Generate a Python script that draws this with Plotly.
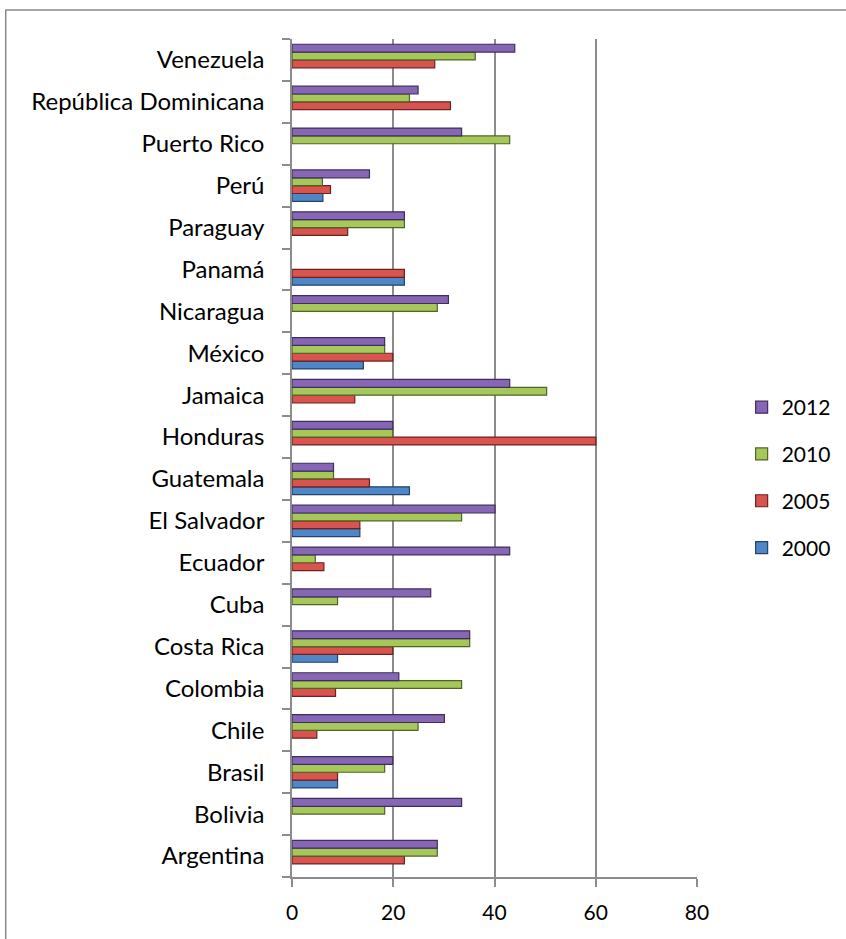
import plotly.graph_objects as go

# Countries, bottom to top on the category axis
countries = [
    "Argentina", "Bolivia", "Brasil", "Chile", "Colombia", "Costa Rica", "Cuba",
    "Ecuador", "El Salvador", "Guatemala", "Honduras", "Jamaica", "México",
    "Nicaragua", "Panamá", "Paraguay", "Perú", "Puerto Rico",
    "República Dominicana", "Venezuela",
]

# Values per year (None = no data)
v2000 = [None, None, 9.0, None, None, 9.0, None,
         None, 13.4, 23.2, None, None, 14.1,
         None, 22.2, None, 6.1, None,
         None, None]
v2005 = [22.2, None, 9.0, 4.9, 8.6, 19.9, None,
         6.3, 13.4, 15.3, 60.0, 12.4, 19.9,
         None, 22.2, 11.0, 7.6, None,
         31.3, 28.2]
v2010 = [28.7, 18.3, 18.3, 24.9, 33.5, 35.1, 9.0,
         4.6, 33.5, 8.2, 19.9, 50.3, 18.3,
         28.7, None, 22.2, 6.0, 43.0,
         23.2, 36.2]
v2012 = [28.7, 33.5, 19.9, 30.1, 21.1, 35.1, 27.4,
         43.0, 40.1, 8.2, 19.9, 43.0, 18.3,
         30.9, None, 22.2, 15.3, 33.5,
         24.9, 44.0]

years = ["2000", "2005", "2010", "2012"]
series = [v2000, v2005, v2010, v2012]
fills = ["#4F86C6", "#D9534F", "#A6C85A", "#8766B5"]
edges = ["#22436B", "#6E2220", "#4E6527", "#3F2E5C"]

x_ticks = [0, 20, 40, 60, 80]

fig = go.Figure()
for i, (name, vals, fc, ec) in enumerate(zip(years, series, fills, edges)):
    fig.add_trace(go.Bar(
        y=countries, x=vals, name=name, orientation="h",
        marker=dict(color=fc, line=dict(color=ec, width=1.2)),
        legendgroup=name, legendrank=len(years) - i,
    ))

font_family = "Lato, Carlito, 'Liberation Sans', sans-serif"
axis_grey = "#8C8C8C"

# plot area in pixels
L, R, T, B = 291.7, 697.3, 39.0, 877.0
W, H = 846, 939
pw, ph = R - L, B - T

def px_x(p):
    return (p - L) / pw

def px_y(p):
    return (B - p) / ph

fig.update_layout(
    width=W, height=H,
    margin=dict(l=L, r=W - R, t=T, b=H - B, pad=0, autoexpand=False),
    paper_bgcolor="white", plot_bgcolor="white",
    barmode="group", bargap=0.25, bargroupgap=0.0,
    font=dict(family=font_family, size=20, color="black"),
    showlegend=True,
    legend=dict(
        x=px_x(742), y=px_y(387), xanchor="left", yanchor="top",
        traceorder="grouped", tracegroupgap=16.5,
        font=dict(size=21), itemwidth=30, bgcolor="rgba(0,0,0,0)",
    ),
    xaxis=dict(
        range=[0, 80], tickvals=x_ticks, showgrid=True, gridcolor=axis_grey,
        gridwidth=1.5, zeroline=False, showline=True, linecolor=axis_grey,
        linewidth=1.5, ticks="outside", ticklen=8, tickcolor=axis_grey,
        tickwidth=1.5, ticklabelstandoff=8, fixedrange=True,
        tickfont=dict(size=21),
    ),
    yaxis=dict(
        type="category", categoryorder="array", categoryarray=countries,
        range=[-0.5, len(countries) - 0.5], showgrid=False, showline=True,
        linecolor=axis_grey, linewidth=1.5, ticks="outside", ticklen=8,
        tickcolor=axis_grey, tickwidth=1.5, tickson="boundaries",
        ticklabelstandoff=21, fixedrange=True, tickfont=dict(size=24),
    ),
    shapes=[dict(
        type="rect", xref="paper", yref="paper",
        x0=px_x(5), x1=px_x(870), y0=px_y(960), y1=px_y(10),
        line=dict(color="#8A8A8A", width=1.5), fillcolor="rgba(0,0,0,0)",
        layer="below",
    )],
)

fig.write_html("out.html")
